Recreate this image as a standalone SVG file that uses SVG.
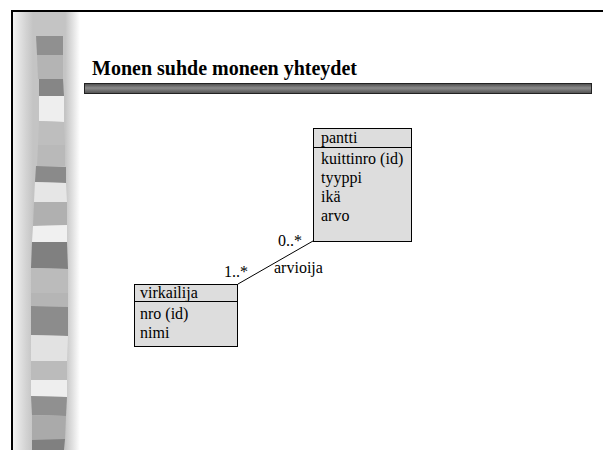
<svg xmlns="http://www.w3.org/2000/svg" width="603" height="450" viewBox="0 0 603 450">
  <defs>
    <linearGradient id="bandGrad" x1="0" y1="0" x2="1" y2="0">
      <stop offset="0" stop-color="#f2f2f2"/>
      <stop offset="0.2" stop-color="#d2d2d2"/>
      <stop offset="0.3" stop-color="#c4c4c4"/>
      <stop offset="0.78" stop-color="#c4c4c4"/>
      <stop offset="0.88" stop-color="#dedede"/>
      <stop offset="1" stop-color="#ffffff"/>
    </linearGradient>
    <linearGradient id="barGrad" x1="0" y1="0" x2="0" y2="1">
      <stop offset="0" stop-color="#4a4a4a"/>
      <stop offset="0.45" stop-color="#8a8a8a"/>
      <stop offset="1" stop-color="#505050"/>
    </linearGradient>
  </defs>
  <style>
    .t { font-family: 'Liberation Serif', 'DejaVu Serif', serif; font-size: 16px; fill: #000; }
    .title { font-family: 'Liberation Serif', 'DejaVu Serif', serif; font-size: 20px; font-weight: bold; fill: #000; }
    .box { fill: #dddddd; stroke: #000; stroke-width: 1; }
    .div { stroke: #000; stroke-width: 1; }
    .conn { stroke: #000; stroke-width: 1; fill: none; }
  </style>

  <rect width="603" height="450" fill="#ffffff"/>

  <!-- decorative side band -->
  <rect x="13" y="12" width="67" height="438" fill="url(#bandGrad)"/>
  <g id="strip" stroke="none">
    <polygon points="36,19 63,20 63,36 36,36" fill="#c4c4c4"/>
    <polygon points="36,36 63,36 63,55 37,55" fill="#909090"/>
    <polygon points="37,55 63,55 63,79 38,79" fill="#b4b4b4"/>
    <polygon points="39,79 63,79 64,96 39,96" fill="#868686"/>
    <polygon points="39,96 64,96 64,122 39,121" fill="#eeeeee"/>
    <polygon points="39,121 64,122 65,145 38,145" fill="#bebebe"/>
    <polygon points="38,145 65,145 65,166 37,166" fill="#b9b9b9"/>
    <polygon points="36,166 66,167 66,183 35,182" fill="#8a8a8a"/>
    <polygon points="35,182 66,183 67,202 34,202" fill="#e6e6e6"/>
    <polygon points="34,202 67,202 67,225 33,226" fill="#b0b0b0"/>
    <polygon points="33,226 67,225 67,242 32,242" fill="#f0f0f0"/>
    <polygon points="32,242 67,242 68,269 31,268" fill="#808080"/>
    <polygon points="31,268 68,269 68,293 31,293" fill="#bbbbbb"/>
    <polygon points="31,293 68,293 68,307 31,306" fill="#b5b5b5"/>
    <polygon points="31,306 68,307 68,336 31,335" fill="#8c8c8c"/>
    <polygon points="31,335 68,336 67,361 31,361" fill="#e2e2e2"/>
    <polygon points="31,361 67,361 67,380 31,380" fill="#bbbbbb"/>
    <polygon points="31,380 67,380 67,397 31,396" fill="#eeeeee"/>
    <polygon points="31,396 67,397 66,416 32,415" fill="#909090"/>
    <polygon points="32,415 66,416 65,440 32,440" fill="#aaaaaa"/>
    <polygon points="32,440 65,439 64,450 32,450" fill="#808080"/>
  </g>

  <!-- frame -->
  <line x1="11" y1="11" x2="603" y2="11" stroke="#000" stroke-width="2"/>
  <line x1="12" y1="10" x2="12" y2="450" stroke="#000" stroke-width="2"/>

  <!-- heading -->
  <text class="title" x="92" y="75">Monen suhde moneen yhteydet</text>
  <rect x="84.5" y="83.5" width="507" height="10" fill="url(#barGrad)" stroke="#222" stroke-width="1"/>

  <!-- association -->
  <g id="connectors">
    <line class="conn" x1="238" y1="284" x2="313" y2="241"/>
    <text class="t" x="278" y="246">0..*</text>
    <text class="t" x="224" y="277">1..*</text>
    <text class="t" x="274" y="273">arvioija</text>
  </g>

  <g id="pantti">
    <rect class="box" x="313.5" y="128.5" width="98" height="113"/>
    <line class="div" x1="313.5" y1="147.5" x2="411.5" y2="147.5"/>
    <text class="t" x="321" y="143">pantti</text>
    <text class="t" x="321" y="164">kuittinro (id)</text>
    <text class="t" x="321" y="183">tyyppi</text>
    <text class="t" x="321" y="202">ikä</text>
    <text class="t" x="321" y="221">arvo</text>
  </g>

  <g id="virkailija">
    <rect class="box" x="134.5" y="284.5" width="103" height="62"/>
    <line class="div" x1="134.5" y1="301.5" x2="237.5" y2="301.5"/>
    <text class="t" x="140" y="298">virkailija</text>
    <text class="t" x="140" y="319">nro (id)</text>
    <text class="t" x="140" y="338">nimi</text>
  </g>
</svg>
